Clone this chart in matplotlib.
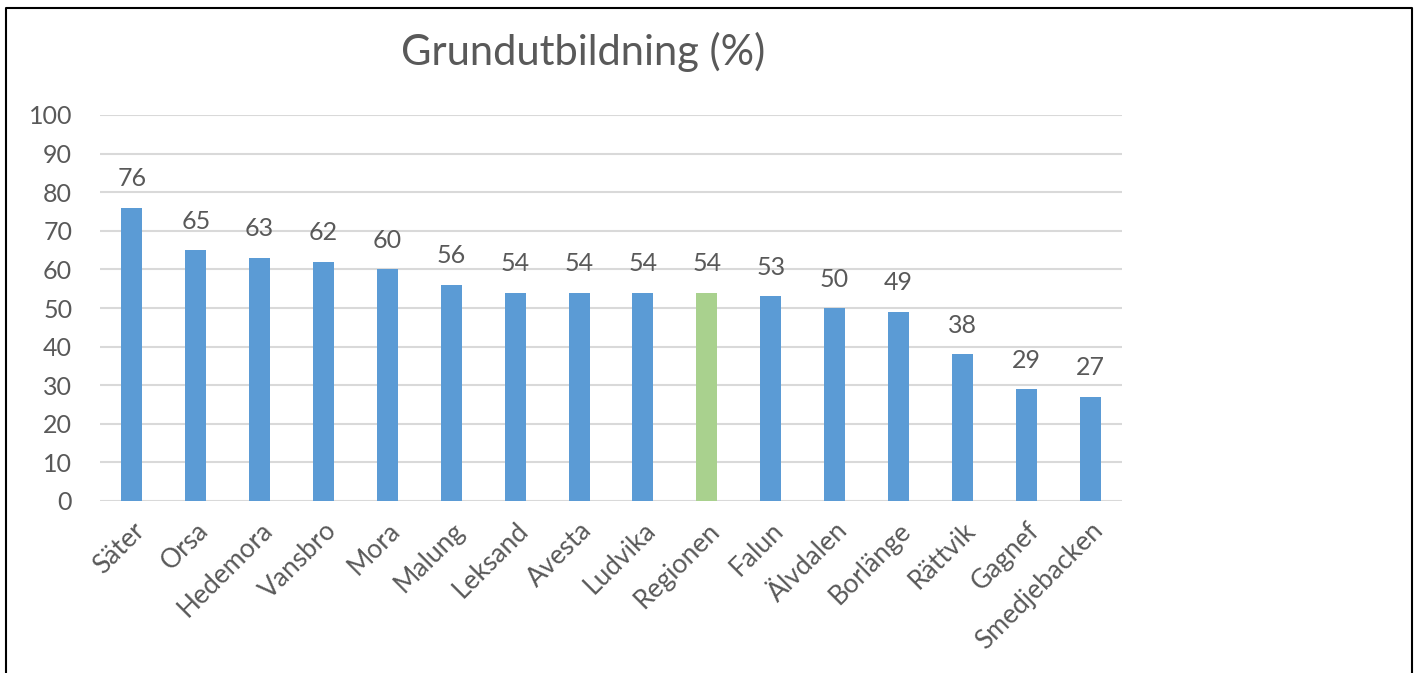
import numpy as np
import matplotlib.pyplot as plt
from matplotlib.lines import Line2D

# data
kommuner = ['Säter', 'Orsa', 'Hedemora', 'Vansbro', 'Mora', 'Malung', 'Leksand',
            'Avesta', 'Ludvika', 'Regionen', 'Falun', 'Älvdalen', 'Borlänge',
            'Rättvik', 'Gagnef', 'Smedjebacken']
andel = [76, 65, 63, 62, 60, 56, 54, 54, 54, 54, 53, 50, 49, 38, 29, 27]
yticks = [0, 10, 20, 30, 40, 50, 60, 70, 80, 90, 100]

plt.rcParams['font.family'] = ['Lato', 'DejaVu Sans']
grey = '#595959'

fig = plt.figure(figsize=(14.16, 6.73), dpi=100)
ax = fig.add_axes([100 / 1416, 1 - 501 / 673, 1022 / 1416, 386 / 673])

x = np.arange(len(kommuner))
colors = ['#A9D18E' if k == 'Regionen' else '#5B9BD5' for k in kommuner]
ax.bar(x, andel, width=0.33, color=colors, zorder=3)

for xi, v in zip(x, andel):
    ax.text(xi, v + 4.5, str(v), ha='center', va='bottom', fontsize=18, color=grey)

ax.set_xlim(-0.5, len(kommuner) - 0.5)
ax.set_ylim(0, 100)
ax.set_yticks(yticks)
ax.set_xticks(x)
ax.set_xticklabels(kommuner, rotation=45, ha='right', rotation_mode='anchor',
                   fontsize=19, color=grey)
ax.tick_params(axis='y', labelsize=18, labelcolor=grey, length=0, pad=20)
ax.tick_params(axis='x', length=0, pad=12)
ax.grid(axis='y', color='#D9D9D9', linewidth=1.5, zorder=0)
for s in ax.spines.values():
    s.set_visible(False)

fig.text(583 / 1416, 1 - 52 / 673, 'Grundutbildning (%)', ha='center', va='center',
         fontsize=30, color=grey)

# outer frame (bottom edge is cut off in the reference)
fx0, fx1, fy = 5.5 / 1416, 1411.5 / 1416, 1 - 7.5 / 673
fig.add_artist(Line2D([fx0, fx0, fx1, fx1], [0, fy, fy, 0], color='black',
                      linewidth=1.5, transform=fig.transFigure))

fig.savefig('out.png', dpi=100)
